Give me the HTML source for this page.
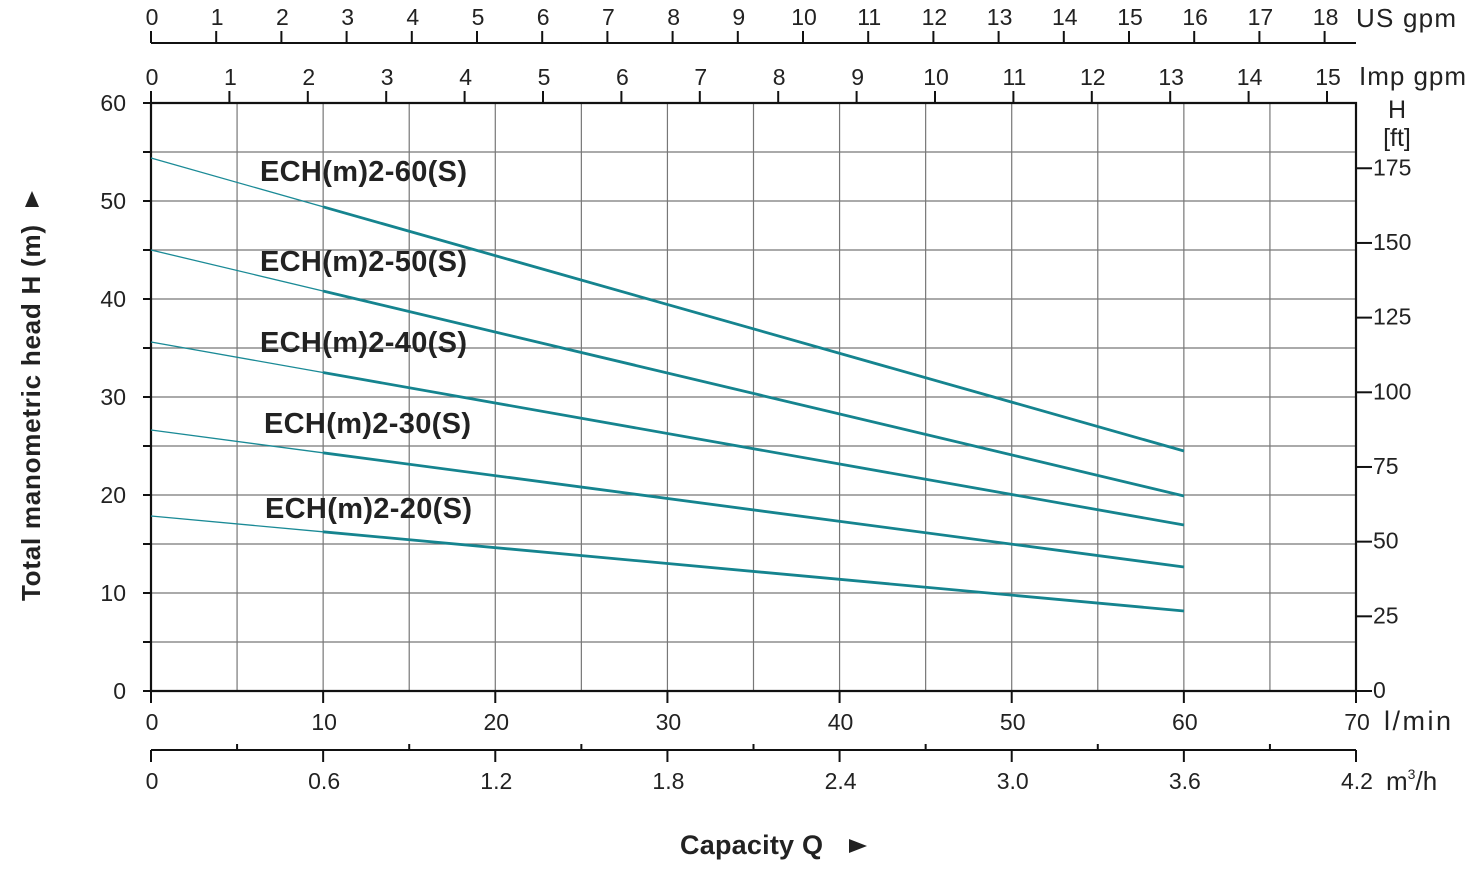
<!DOCTYPE html><html><head><meta charset="utf-8"><style>
body{margin:0;background:#fff;width:1467px;height:871px;overflow:hidden}
text{font-family:"Liberation Sans",sans-serif;fill:#222}
</style></head><body>
<svg id="s" width="1467" height="871" xmlns="http://www.w3.org/2000/svg"></svg>
<script>
const s=document.getElementById('s');let h='';
const X=q=>151+q*1205/70, Y=m=>691-m*9.8;
for(let q=5;q<70;q+=5)h+=`<line x1="${X(q)}" y1="103" x2="${X(q)}" y2="691" stroke="#777" stroke-width="1.2"/>`;
for(let m=5;m<60;m+=5)h+=`<line x1="151" y1="${Y(m)}" x2="1356" y2="${Y(m)}" stroke="#777" stroke-width="1.2"/>`;
h+=`<path d="M151 103V691H1356V103H151" fill="none" stroke="#111" stroke-width="2.2"/>`;
for(let m=0;m<=60;m+=5){h+=`<line x1="143" y1="${Y(m)}" x2="151" y2="${Y(m)}" stroke="#111" stroke-width="2"/>`;
if(m%10==0)h+=`<text x="126" y="${Y(m)+8}" font-size="23" text-anchor="end">${m}</text>`;}
for(let f=0;f<=175;f+=25){const y=691-f*0.3048*9.8;h+=`<line x1="1356" y1="${y}" x2="1372" y2="${y}" stroke="#111" stroke-width="2"/><text x="1373" y="${y+7}" font-size="23">${f}</text>`;}
h+=`<text x="1397" y="118" font-size="25" text-anchor="middle">H</text><text x="1397" y="146" font-size="25" text-anchor="middle">[ft]</text>`;
for(let q=0;q<=70;q+=10){h+=`<line x1="${X(q)}" y1="691" x2="${X(q)}" y2="703" stroke="#111" stroke-width="2"/><text x="${X(q)+1}" y="730" font-size="23" text-anchor="middle">${q}</text>`;}
h+=`<text x="1384" y="730" font-size="27" textLength="67">l/min</text>`;
h+=`<line x1="151" y1="750" x2="1356" y2="750" stroke="#111" stroke-width="2"/>`;
for(let q=0;q<=70;q+=5){if(q%10==0){h+=`<line x1="${X(q)}" y1="750" x2="${X(q)}" y2="762" stroke="#111" stroke-width="2"/><text x="${X(q)+1}" y="789" font-size="23" text-anchor="middle">${(q*0.06).toFixed(q==0?0:1)}</text>`}else h+=`<line x1="${X(q)}" y1="744" x2="${X(q)}" y2="750" stroke="#111" stroke-width="2"/>`;}
h+=`<text x="1386" y="790" font-size="26">m<tspan dy="-11" font-size="14">3</tspan><tspan dy="11">/h</tspan></text>`;
h+=`<line x1="151" y1="43" x2="1356" y2="43" stroke="#111" stroke-width="2"/>`;
for(let g=0;g<=18;g++){const x=151+g*65.2;h+=`<line x1="${x}" y1="31" x2="${x}" y2="43" stroke="#111" stroke-width="2"/><text x="${x+1}" y="25" font-size="23" text-anchor="middle">${g}</text>`;}
h+=`<text x="1356" y="27" font-size="26" textLength="100">US gpm</text>`;
for(let g=0;g<=15;g++){const x=151+g*78.4;h+=`<line x1="${x}" y1="91" x2="${x}" y2="103" stroke="#111" stroke-width="2"/><text x="${x+1}" y="85" font-size="23" text-anchor="middle">${g}</text>`;}
h+=`<text x="1359" y="85" font-size="26" textLength="107">Imp gpm</text>`;
const c=[[158,451,'ECH(m)2-60(S)',260,181],[250,496,'ECH(m)2-50(S)',260,271],[342,525,'ECH(m)2-40(S)',260,352],[430,567,'ECH(m)2-30(S)',264,433],[516,611,'ECH(m)2-20(S)',265,518]];
for(const [a,b,t,tx,ty] of c){const ym=a+(b-a)*(172/1033);
h+=`<line x1="151" y1="${a}" x2="323" y2="${ym}" stroke="#1a8a96" stroke-width="1.3"/><line x1="323" y1="${ym}" x2="1184" y2="${b}" stroke="#15848f" stroke-width="2.8"/>`;
h+=`<text x="${tx}" y="${ty}" font-size="29" font-weight="bold" textLength="207">${t}</text>`;}
h+=`<text transform="translate(40,601) rotate(-90)" font-size="26" font-weight="bold" textLength="376">Total manometric head H (m)</text>`;
h+=`<path d="M25 207L32 191L39 207Z" fill="#222"/>`;
h+=`<text x="680" y="854" font-size="27" font-weight="bold" textLength="143">Capacity Q</text><path d="M849 839L867 846L849 853Z" fill="#222"/>`;
s.innerHTML=h;
</script></body></html>
